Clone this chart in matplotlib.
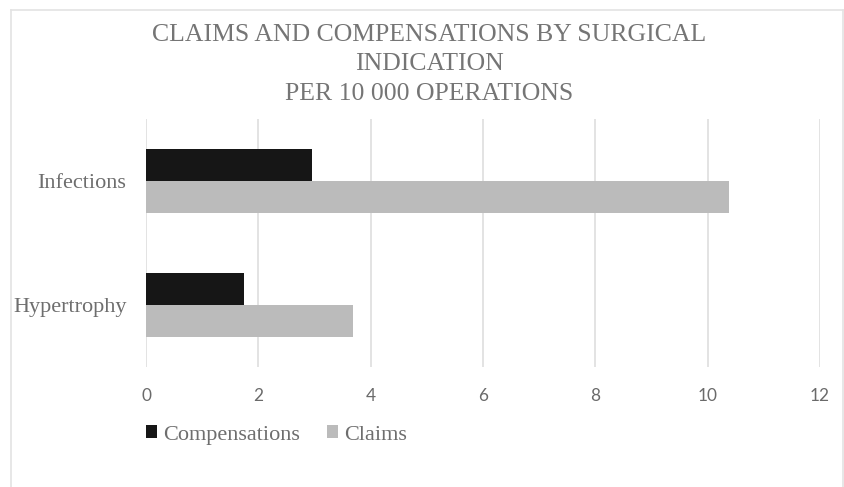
import matplotlib
matplotlib.use("Agg")
import matplotlib.pyplot as plt
from matplotlib.lines import Line2D
from matplotlib.patches import Patch

categories = ["Hypertrophy", "Infections"]
compensations = [1.75, 2.96]
claims = [3.68, 10.38]
series_names = ["Compensations", "Claims"]
xticks = [0, 2, 4, 6, 8, 10, 12]
title = "CLAIMS AND COMPENSATIONS BY SURGICAL\nINDICATION\nPER 10 000 OPERATIONS"

W, H = 844, 487
fig = plt.figure(figsize=(W / 100, H / 100), dpi=100)
fig.patch.set_facecolor("white")

ax = fig.add_axes([146 / W, 1 - 367 / H, (820 - 146) / W, (367 - 119) / H])
h = 0.258
ypos = list(range(len(categories)))
c_comp = "#161616"
c_claim = "#BBBBBB"
ax.barh([y + h / 2 for y in ypos], compensations, height=h, color=c_comp, zorder=3)
ax.barh([y - h / 2 for y in ypos], claims, height=h, color=c_claim, zorder=3)

ax.set_xlim(0, 12)
ax.set_ylim(-0.5, len(categories) - 0.5)
ax.set_xticks(xticks)
ax.set_xticklabels([str(t) for t in xticks], family="Lato", fontsize=12.4, color="#6A6A6A")
ax.set_yticks(ypos)
ax.set_yticklabels(categories, family="Liberation Serif", fontsize=16, color="#6E6E6E")
ax.tick_params(axis="both", length=0)
ax.tick_params(axis="x", pad=15)
ax.tick_params(axis="y", pad=14)
ax.grid(axis="x", color="#E0E0E0", linewidth=1.3, zorder=0)
for s in ax.spines.values():
    s.set_visible(False)

fig.text(429 / W, 1 - 24 / H, title, ha="center", va="top", family="Liberation Serif",
         fontsize=18.5, color="#757575", linespacing=1.44)

handles = [Patch(facecolor=c_comp), Patch(facecolor=c_claim)]
leg = fig.legend(handles, series_names, loc="center left", bbox_to_anchor=(146 / W, 1 - 435 / H),
                 ncol=2, frameon=False, prop={"family": "Liberation Serif", "size": 16},
                 handlelength=0.5, handleheight=0.5, handletextpad=0.27, columnspacing=1.22,
                 borderpad=0, borderaxespad=0)
for t in leg.get_texts():
    t.set_color("#6E6E6E")

# chart-area frame
fc = "#E3E3E3"
fig.add_artist(Line2D([10.5 / W, 10.5 / W], [1 - 9.5 / H, 0], transform=fig.transFigure, color=fc, lw=1.2))
fig.add_artist(Line2D([10.5 / W, 842.5 / W], [1 - 9.5 / H, 1 - 9.5 / H], transform=fig.transFigure, color=fc, lw=1.2))
fig.add_artist(Line2D([842.5 / W, 842.5 / W], [1 - 9.5 / H, 0], transform=fig.transFigure, color=fc, lw=1.2))

fig.savefig("out.png", dpi=100, facecolor="white")
